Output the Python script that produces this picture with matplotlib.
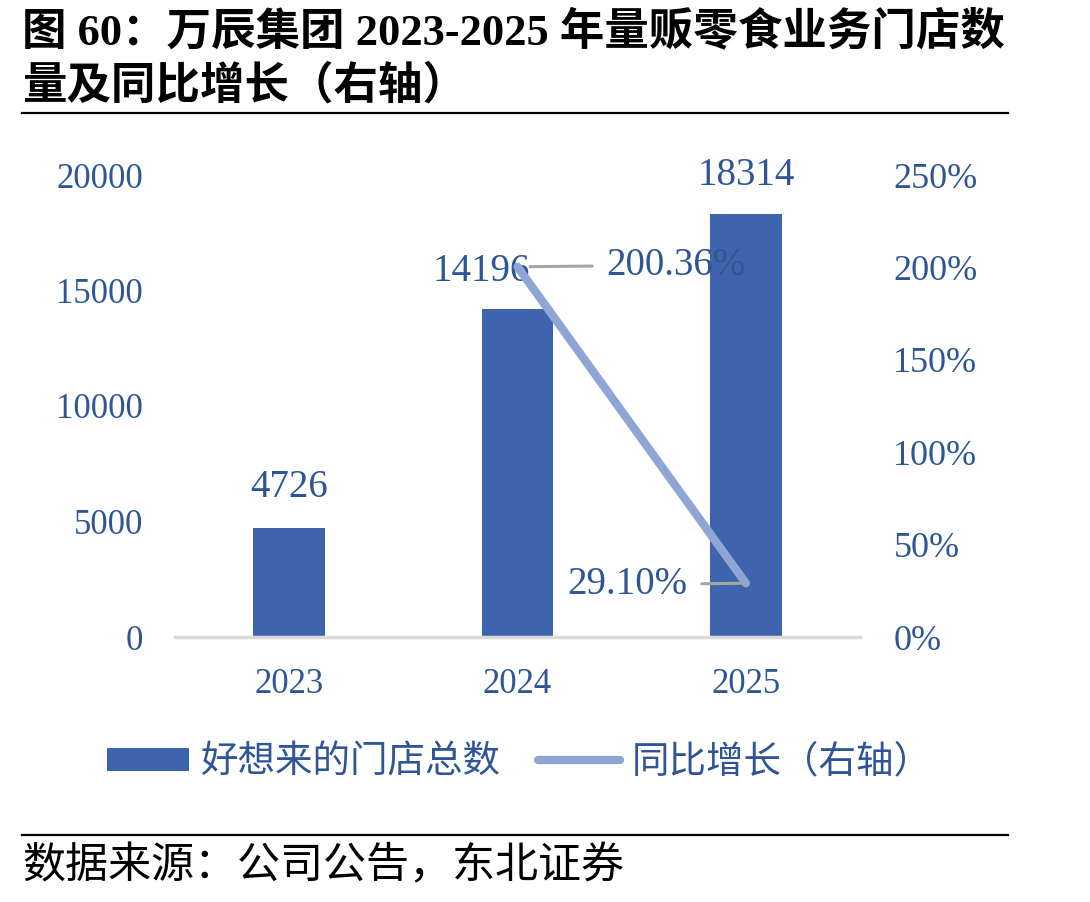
import matplotlib
matplotlib.use("Agg")
import matplotlib.pyplot as plt
from matplotlib.patches import Patch
from matplotlib.lines import Line2D

# Data
years = ["2023", "2024", "2025"]
stores = [4726, 14196, 18314]
growth_years = ["2024", "2025"]
growth = [200.36, 29.10]
left_ticks = [0, 5000, 10000, 15000, 20000]
right_ticks = [0, 50, 100, 150, 200, 250]

bar_color = "#3D64AD"
line_color = "#8FA5D6"
text_blue = "#2F5597"
serif = ["Liberation Serif", "Noto Sans CJK SC"]
cjk = ["Noto Sans CJK SC", "DejaVu Sans"]

W, H = 1090, 902
fig = plt.figure(figsize=(W / 100, H / 100), dpi=100)


def fx(x):
    return x / W


def fy(y):
    return 1 - y / H


# Title
fig.text(fx(22), fy(32), "图 60：万辰集团 2023-2025 年量贩零食业务门店数",
         family=serif, weight="bold", fontsize=32, va="center", ha="left")
fig.text(fx(22), fy(86), "量及同比增长（右轴）",
         family=serif, weight="bold", fontsize=32, va="center", ha="left")
fig.add_artist(Line2D([fx(22), fx(1008)], [fy(113), fy(113)], color="black", lw=1.6))
fig.add_artist(Line2D([fx(22), fx(1008)], [fy(835), fy(835)], color="black", lw=1.6))
fig.text(fx(22), fy(866), "数据来源：公司公告，东北证券",
         family=cjk, fontsize=31, va="center", ha="left")

# Axes
ax = fig.add_axes([fx(175), fy(637), (860 - 175) / W, (637 - 175) / H])
xpos = list(range(len(years)))
ax.bar(xpos, stores, width=0.315, color=bar_color, zorder=2)
ax.set_xlim(-0.5, 2.5)
ax.set_ylim(0, 20000)
ax.set_yticks(left_ticks)
ax.set_yticklabels([str(t) for t in left_ticks], family=serif, fontsize=25, color=text_blue)
ax.set_xticks(xpos)
ax.set_xticklabels(years, family=serif, fontsize=25, color=text_blue)
ax.tick_params(axis="both", length=0)
ax.tick_params(axis="y", pad=23)
ax.tick_params(axis="x", pad=22)
for s in ["top", "right", "left"]:
    ax.spines[s].set_visible(False)
ax.spines["bottom"].set_color("#D9D9D9")
ax.spines["bottom"].set_linewidth(2.5)

# bar labels
offsets = [(0, 29), (-26, 27), (0, 28)]
for x, v, off in zip(xpos, stores, offsets):
    ax.annotate(str(v), (x, v), xytext=off, textcoords="offset points",
                ha="center", va="center", family=serif, fontsize=28, color=text_blue)

# growth line on right axis
ax2 = ax.twinx()
gx = [years.index(y) for y in growth_years]
ax2.plot(gx, growth, color=line_color, lw=6, solid_capstyle="round", zorder=3)
ax2.set_ylim(0, 250)
ax2.set_yticks(right_ticks)
ax2.set_yticklabels([f"{t}%" for t in right_ticks], family=serif, fontsize=26, color=text_blue)
ax2.tick_params(axis="y", length=0, pad=24)
for s in ["top", "right", "left", "bottom"]:
    ax2.spines[s].set_visible(False)

gl_offsets = [(114, 1), (-85, -1)]
for x, v, off in zip(gx, growth, gl_offsets):
    ax2.annotate(f"{v:.2f}%", (x, v), xytext=off, textcoords="offset points",
                 ha="center", va="center", family=serif, fontsize=28, color=text_blue,
                 arrowprops=dict(arrowstyle="-", color="#A6A6A6", lw=2.2,
                                 shrinkA=8, shrinkB=0 if v < 100 else 9))

# Legend
handles = [Patch(facecolor=bar_color, edgecolor="none"),
           Line2D([0], [0], color=line_color, lw=6, solid_capstyle="round")]
labels = ["好想来的门店总数", "同比增长（右轴）"]
fig.legend(handles, labels, loc="center", bbox_to_anchor=(fx(519), fy(762)),
           ncol=2, frameon=False, prop={"family": cjk, "size": 27},
           labelcolor=text_blue, handlelength=2.2, handleheight=0.55,
           handletextpad=0.3, columnspacing=1.0)

fig.savefig("out.png", dpi=100)
